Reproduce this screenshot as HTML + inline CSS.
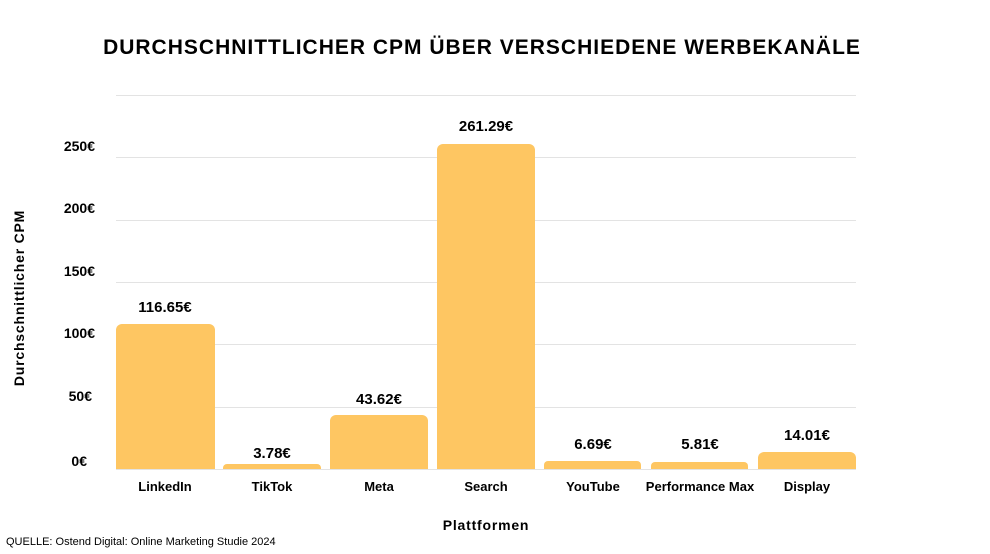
<!DOCTYPE html>
<html><head><style>
body{margin:0;background:#fff;}
svg{display:block;font-family:"Liberation Sans",sans-serif;}
</style></head><body>
<svg width="990" height="554" viewBox="0 0 990 554">
<text x="482" y="54" text-anchor="middle" font-size="21" font-weight="bold" letter-spacing="1" fill="#000">DURCHSCHNITTLICHER CPM ÜBER VERSCHIEDENE WERBEKANÄLE</text>
<g stroke="#e3e3e3" stroke-width="1">
<line x1="116" x2="856" y1="95.5" y2="95.5"/>
<line x1="116" x2="856" y1="157.5" y2="157.5"/>
<line x1="116" x2="856" y1="220.5" y2="220.5"/>
<line x1="116" x2="856" y1="282.5" y2="282.5"/>
<line x1="116" x2="856" y1="344.5" y2="344.5"/>
<line x1="116" x2="856" y1="407.5" y2="407.5"/>
<line x1="116" x2="856" y1="469.5" y2="469.5"/>
</g>
<g font-size="14" font-weight="bold" text-anchor="end" fill="#000">
<text x="95" y="151">250€</text>
<text x="95" y="213">200€</text>
<text x="95" y="276">150€</text>
<text x="95" y="338">100€</text>
<text x="92" y="401">50€</text>
<text x="87" y="466">0€</text>
</g>
<text transform="translate(24,298) rotate(-90)" text-anchor="middle" font-size="14" font-weight="bold" letter-spacing="0.8">Durchschnittlicher CPM</text>
<g fill="#FEC662">
<path d="M116,469V330a6,6 0 0 1 6,-6H209a6,6 0 0 1 6,6V469Z"/>
<path d="M223,469V468a4,4 0 0 1 4,-4H317a4,4 0 0 1 4,4V469Z"/>
<path d="M330,469V421a6,6 0 0 1 6,-6H422a6,6 0 0 1 6,6V469Z"/>
<path d="M437,469V150a6,6 0 0 1 6,-6H529a6,6 0 0 1 6,6V469Z"/>
<path d="M544,469V465a4,4 0 0 1 4,-4H637a4,4 0 0 1 4,4V469Z"/>
<path d="M651,469V466a4,4 0 0 1 4,-4H744a4,4 0 0 1 4,4V469Z"/>
<path d="M758,469V458a6,6 0 0 1 6,-6H850a6,6 0 0 1 6,6V469Z"/>
</g>
<g font-size="15" font-weight="bold" text-anchor="middle" fill="#000">
<text x="165" y="312">116.65€</text>
<text x="272" y="458">3.78€</text>
<text x="379" y="404">43.62€</text>
<text x="486" y="131">261.29€</text>
<text x="593" y="449">6.69€</text>
<text x="700" y="449">5.81€</text>
<text x="807" y="440">14.01€</text>
</g>
<g font-size="13" font-weight="bold" text-anchor="middle" fill="#000">
<text x="165" y="491">LinkedIn</text>
<text x="272" y="491">TikTok</text>
<text x="379" y="491">Meta</text>
<text x="486" y="491">Search</text>
<text x="593" y="491">YouTube</text>
<text x="700" y="491">Performance Max</text>
<text x="807" y="491">Display</text>
</g>
<text x="486" y="530" text-anchor="middle" font-size="14" font-weight="bold" letter-spacing="0.8">Plattformen</text>
<text x="6" y="545" font-size="11" fill="#000">QUELLE: Ostend Digital: Online Marketing Studie 2024</text>
</svg>
</body></html>
